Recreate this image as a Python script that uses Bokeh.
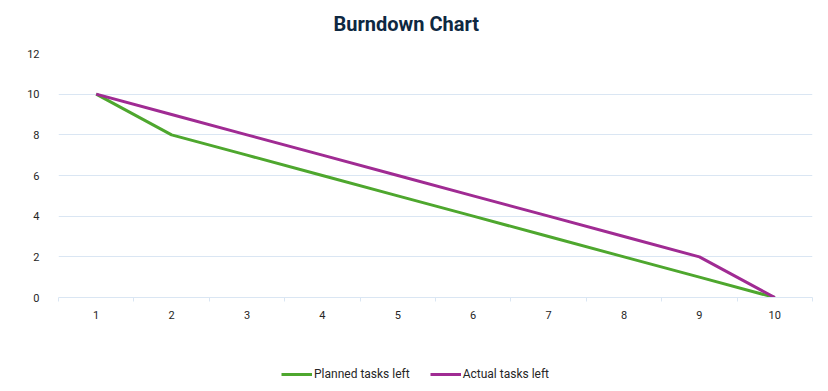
from bokeh.plotting import figure
from bokeh.layouts import column
from bokeh.models import Range1d, FixedTicker, Legend, LegendItem
from bokeh.embed import file_html
from bokeh.resources import INLINE

days = [1, 2, 3, 4, 5, 6, 7, 8, 9, 10]
planned = [10, 8, 7, 6, 5, 4, 3, 2, 1, 0]
actual = [10, 9, 8, 7, 6, 5, 4, 3, 2, 0]
y_ticks = [0, 2, 4, 6, 8, 10, 12]
series_names = ["Planned tasks left", "Actual tasks left"]
series_colors = ["#4ea72e", "#a02b93"]
series_values = [planned, actual]

FONT = "Roboto"
LABEL_COLOR = "#262626"

# title strip
tf = figure(width=828, height=45, output_backend="svg", toolbar_location=None,
            x_range=Range1d(0, 1), y_range=Range1d(0, 1),
            x_axis_location=None, y_axis_location=None, min_border=0)
tf.outline_line_color = None
tf.xgrid.grid_line_color = None
tf.ygrid.grid_line_color = None
tf.title.text = "Burndown Chart"
tf.title.align = "left"
tf.title.offset = 275
tf.title.vertical_align = "bottom"
tf.title.standoff = 18
tf.title.text_font = FONT
tf.title.text_font_size = "20px"
tf.title.text_font_style = "bold"
tf.title.text_color = "#0e2841"

# main chart
p = figure(width=828, height=295, output_backend="svg", toolbar_location=None,
           x_range=Range1d(0.5, 10.5), y_range=Range1d(0, 12),
           title_location=None,
           min_border_left=58, min_border_right=16, min_border_top=8,
           min_border_bottom=43)
p.outline_line_color = None
p.background_fill_color = "white"
p.border_fill_color = "white"

p.xgrid.grid_line_color = None
p.ygrid.ticker = FixedTicker(ticks=y_ticks)
p.ygrid.grid_line_color = "#dae6f3"
p.ygrid.grid_line_width = 1

p.yaxis.ticker = FixedTicker(ticks=y_ticks)
p.yaxis.axis_line_color = None
p.yaxis.major_tick_line_color = None
p.yaxis.minor_tick_line_color = None
p.yaxis.major_label_standoff = 13
p.yaxis.major_label_text_font = FONT
p.yaxis.major_label_text_font_size = "11px"
p.yaxis.major_label_text_color = LABEL_COLOR

p.xaxis.ticker = FixedTicker(ticks=days, minor_ticks=[d - 0.5 for d in days] + [10.5])
p.xaxis.axis_line_color = "#dae6f3"
p.xaxis.major_tick_line_color = None
p.xaxis.minor_tick_line_color = "#dae6f3"
p.xaxis.minor_tick_out = 4
p.xaxis.minor_tick_in = 0
p.xaxis.major_label_standoff = 7
p.xaxis.major_label_text_font = FONT
p.xaxis.major_label_text_font_size = "11px"
p.xaxis.major_label_text_color = LABEL_COLOR

for vals, color in zip(series_values, series_colors):
    p.line(days, vals, line_color=color, line_width=3)

# legend strip below the chart
lg = figure(width=828, height=51, output_backend="svg", toolbar_location=None,
            x_range=Range1d(-2, -1), y_range=Range1d(-2, -1),
            x_axis_location=None, y_axis_location=None, min_border=0)
lg.outline_line_color = None
lg.xgrid.grid_line_color = None
lg.ygrid.grid_line_color = None
items = []
for name, vals, color in zip(series_names, series_values, series_colors):
    r = lg.line(days, vals, line_color=color, line_width=3)
    items.append(LegendItem(label=name, renderers=[r]))

legend = Legend(items=items, orientation="horizontal", location=(223, 10),
                glyph_width=31, glyph_height=14, label_standoff=2, spacing=20,
                label_text_font=FONT, label_text_font_size="12px",
                label_text_color=LABEL_COLOR, label_height=14,
                border_line_color=None, background_fill_alpha=0,
                padding=0, margin=0)
lg.add_layout(legend, "center")

layout = column(tf, p, lg, spacing=0)
open("out.html", "w").write(file_html(layout, INLINE))
